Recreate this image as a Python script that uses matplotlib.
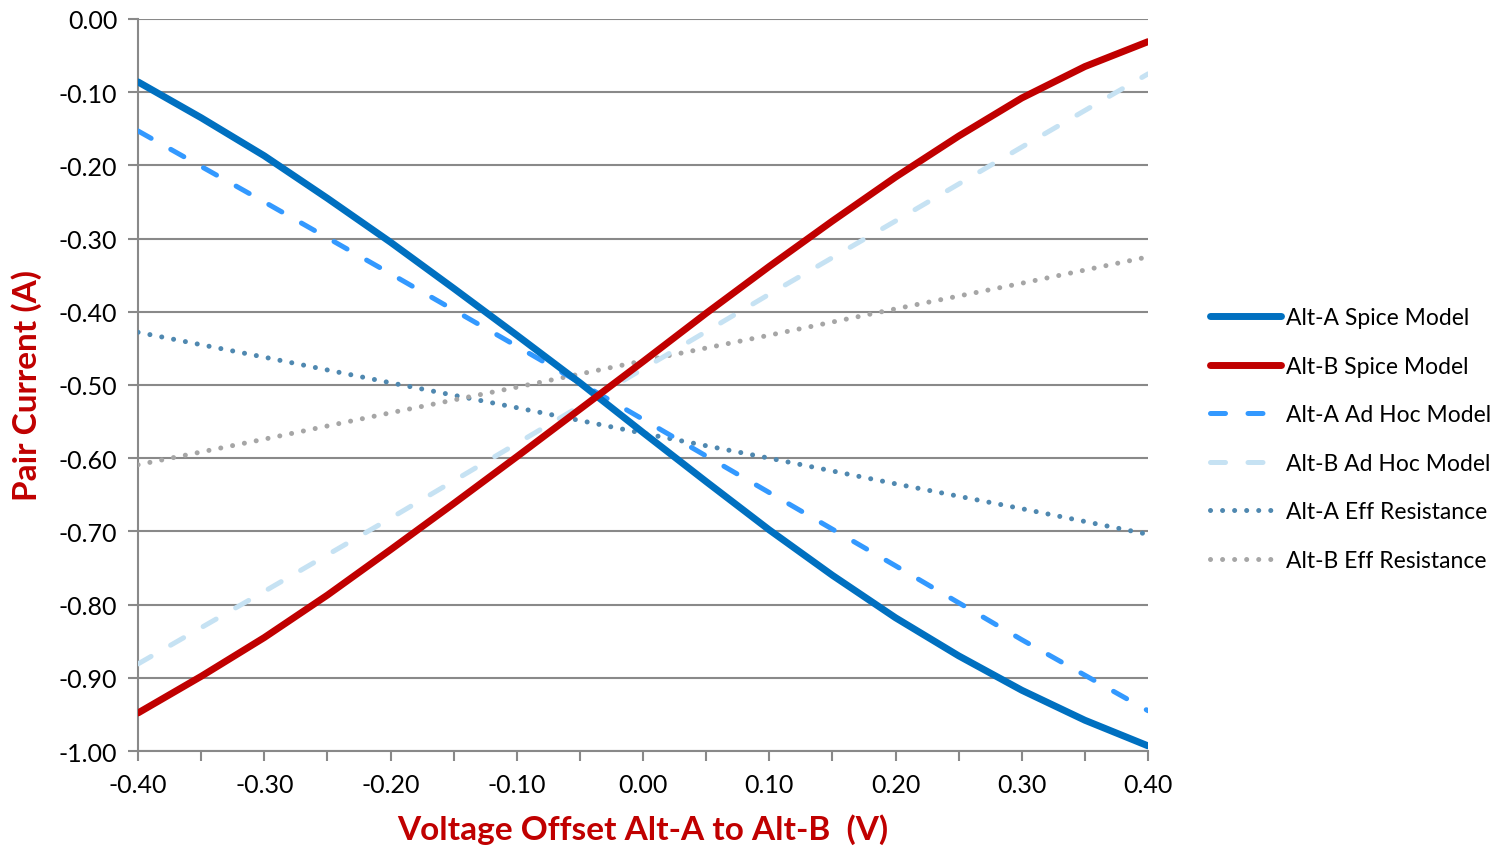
import matplotlib.pyplot as plt
import numpy as np

plt.rcParams['font.family'] = ['Lato', 'DejaVu Sans']

# voltage offset (V)
x_fine = [-0.40, -0.35, -0.30, -0.25, -0.20, -0.15, -0.10, -0.05, 0.00,
          0.05, 0.10, 0.15, 0.20, 0.25, 0.30, 0.35, 0.40]
x_coarse = [-0.40, -0.30, -0.20, -0.10, 0.00, 0.10, 0.20, 0.30, 0.40]

alt_a_spice = [-0.086, -0.135, -0.187, -0.245, -0.305, -0.368, -0.432, -0.497, -0.565,
               -0.632, -0.698, -0.760, -0.818, -0.870, -0.917, -0.958, -0.993]
alt_b_spice = [-0.948, -0.898, -0.845, -0.787, -0.725, -0.662, -0.598, -0.533, -0.468,
               -0.402, -0.338, -0.276, -0.216, -0.160, -0.108, -0.065, -0.031]
alt_a_adhoc = [-0.153, -0.250, -0.348, -0.447, -0.547, -0.647, -0.747, -0.848, -0.945]
alt_b_adhoc = [-0.881, -0.782, -0.682, -0.580, -0.478, -0.376, -0.276, -0.175, -0.075]
alt_a_eff = [-0.428, -0.462, -0.497, -0.531, -0.566, -0.600, -0.635, -0.669, -0.704]
alt_b_eff = [-0.609, -0.574, -0.538, -0.503, -0.467, -0.432, -0.396, -0.361, -0.325]

xticks = np.arange(-0.40, 0.401, 0.10)
yticks = np.arange(-1.00, 0.001, 0.10)

fig = plt.figure(figsize=(15.09, 8.53), dpi=100)
ax = fig.add_axes([0.0915, 0.1184, 0.6693, 0.8582])

red = '#C00000'
dash = (3, 4.5)
dot = (0.01, 2.4)

ax.plot(x_fine, alt_a_spice, color='#0070C0', lw=5, solid_capstyle='round', solid_joinstyle='round',
        label='Alt-A Spice Model', zorder=6)
ax.plot(x_fine, alt_b_spice, color=red, lw=5, solid_capstyle='round', solid_joinstyle='round',
        label='Alt-B Spice Model', zorder=6)
ax.plot(x_coarse, alt_a_adhoc, color='#3399FF', lw=3.6, dashes=dash, dash_capstyle='round', label='Alt-A Ad Hoc Model', zorder=5)
ax.plot(x_coarse, alt_b_adhoc, color='#C6E2F3', lw=3.6, dashes=dash, dash_capstyle='round', label='Alt-B Ad Hoc Model', zorder=5)
ax.plot(x_coarse, alt_a_eff, color='#4F88B0', lw=3.6, dashes=dot, dash_capstyle='round', label='Alt-A Eff Resistance', zorder=4)
ax.plot(x_coarse, alt_b_eff, color='#A6A6A6', lw=3.6, dashes=dot, dash_capstyle='round', label='Alt-B Eff Resistance', zorder=4)

ax.set_xlim(-0.40, 0.40)
ax.set_ylim(-1.00, 0.00)
ax.set_xticks(xticks)
ax.set_xticks(np.arange(-0.40, 0.401, 0.05), minor=True)
ax.set_xticklabels(['%.2f' % v if abs(v) > 1e-9 else '0.00' for v in xticks])
ax.set_yticks(yticks)
ax.set_yticklabels(['%.2f' % v if abs(v) > 1e-9 else '0.00' for v in yticks])

ax.grid(axis='y', color='#898989', lw=1.5, zorder=0)
ax.set_axisbelow(True)
for s in ['top', 'right']:
    ax.spines[s].set_visible(False)
for s in ['left', 'bottom']:
    ax.spines[s].set_color('#898989')
    ax.spines[s].set_linewidth(1.5)
ax.tick_params(axis='both', which='both', direction='out', color='#898989', width=1.5, length=7,
               labelsize=18, labelcolor='black')
ax.tick_params(axis='x', which='major', pad=9)
ax.tick_params(axis='y', which='major', pad=8)

ax.set_xlabel('Voltage Offset Alt-A to Alt-B  (V)', color=red, fontsize=24, fontweight='bold', labelpad=12)
ax.set_ylabel('Pair Current (A)', color=red, fontsize=24, fontweight='bold', labelpad=12)

fig.legend(loc='center left', bbox_to_anchor=(0.793, 0.484), frameon=False, fontsize=16.5,
           handlelength=3.1, handletextpad=0.2, labelspacing=1.2, borderaxespad=0.2)

fig.savefig('out.png', dpi=100)
